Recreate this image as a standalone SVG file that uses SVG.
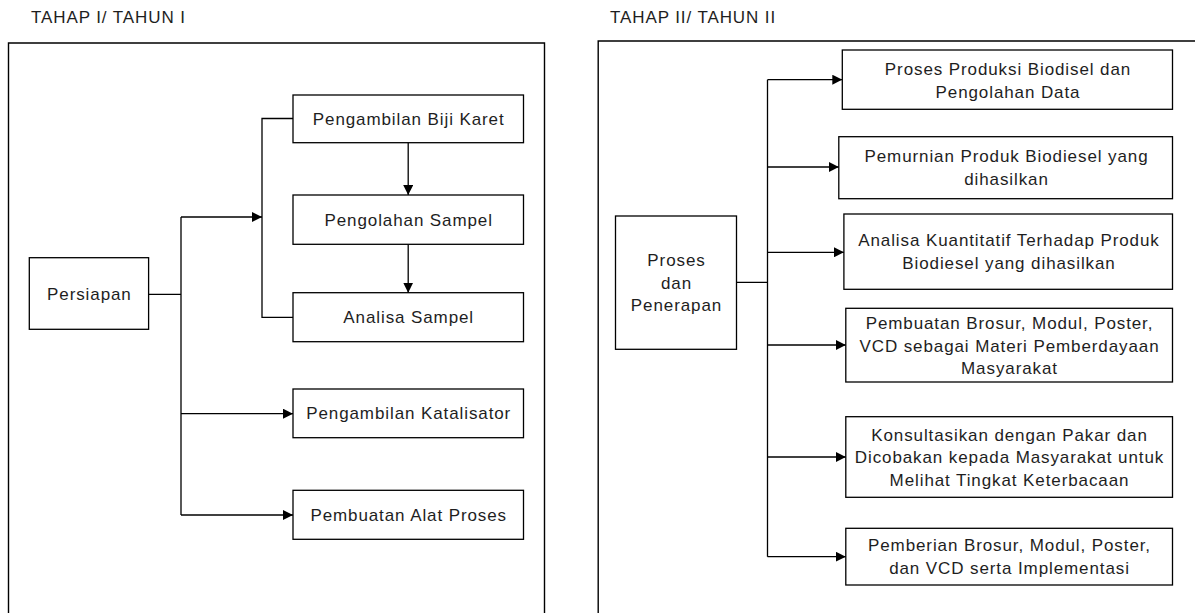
<svg xmlns="http://www.w3.org/2000/svg" width="1195" height="613" viewBox="0 0 1195 613">
<style>
.bx{fill:#fff;stroke:#000;stroke-width:1.3}
.pn{fill:none;stroke:#000;stroke-width:1.4}
.ln{fill:none;stroke:#000;stroke-width:1.3}
.ar{fill:none;stroke:#000;stroke-width:1.3;marker-end:url(#ah)}
text{font-family:"Liberation Sans",Arial,sans-serif;font-size:17px;letter-spacing:0.9px;fill:#1e1e1e}
.c{text-anchor:middle}
</style>
<defs>
<marker id="ah" viewBox="0 0 10 10" refX="10" refY="5" markerWidth="10" markerHeight="10" markerUnits="userSpaceOnUse" orient="auto">
<path d="M0,0 L10,5 L0,10 z" fill="#000"/>
</marker>
</defs>
<rect width="1195" height="613" fill="#fff"/>
<g id="panel-left">
<text x="31" y="23.3">TAHAP I/ TAHUN I</text>
<path class="pn" d="M8.5,613 V43 H544.5 V613"/>
</g>
<g id="panel-right">
<text x="610" y="23.3">TAHAP II/ TAHUN II</text>
<path class="pn" d="M598.2,613 V41 H1196"/>
</g>
<g id="connectors">
<path class="ln" d="M148.6,294.3 H181 M181,217 V515"/>
<path class="ar" d="M181,217 H262"/>
<path class="ln" d="M293,118.5 H262 V317.3 H293"/>
<path class="ar" d="M408.2,142.7 V195"/>
<path class="ar" d="M408.2,244.3 V292.7"/>
<path class="ar" d="M181,413.7 H293"/>
<path class="ar" d="M181,515 H293"/>
<path class="ln" d="M736.5,282.3 H767.5 M767.5,79.7 V556.7"/>
<path class="ar" d="M767.5,79.7 H842.3"/>
<path class="ar" d="M767.5,167 H838.8"/>
<path class="ar" d="M767.5,252.3 H843.9"/>
<path class="ar" d="M767.5,345 H845.8"/>
<path class="ar" d="M767.5,457 H845.8"/>
<path class="ar" d="M767.5,556.7 H845.8"/>
</g>
<g id="n-persiapan">
<rect class="bx" x="29.3" y="257.7" width="119.3" height="71.6"/>
<text class="c" x="89.4" y="300.3">Persiapan</text>
</g>
<g id="n-biji-karet">
<rect class="bx" x="293" y="95" width="230.5" height="47.7"/>
<text class="c" x="408.7" y="124.6">Pengambilan Biji Karet</text>
</g>
<g id="n-pengolahan">
<rect class="bx" x="293" y="195" width="230.5" height="49.3"/>
<text class="c" x="408.7" y="225.6">Pengolahan Sampel</text>
</g>
<g id="n-analisa">
<rect class="bx" x="293" y="292.7" width="230.5" height="49"/>
<text class="c" x="408.7" y="323.2">Analisa Sampel</text>
</g>
<g id="n-katalisator">
<rect class="bx" x="293" y="389" width="230.5" height="48.7"/>
<text class="c" x="408.7" y="419.2">Pengambilan Katalisator</text>
</g>
<g id="n-alat">
<rect class="bx" x="293" y="490.3" width="230.5" height="49"/>
<text class="c" x="408.7" y="520.8">Pembuatan Alat Proses</text>
</g>
<g id="n-proses">
<rect class="bx" x="615.5" y="216" width="121" height="133.3"/>
<text class="c" x="676.5" y="266.2">Proses</text>
<text class="c" x="676.5" y="288.6">dan</text>
<text class="c" x="676.5" y="311">Penerapan</text>
</g>
<g id="n-produksi">
<rect class="bx" x="842.3" y="50" width="330.2" height="59.3"/>
<text class="c" x="1008" y="75">Proses Produksi Biodisel dan</text>
<text class="c" x="1008" y="97.6">Pengolahan Data</text>
</g>
<g id="n-pemurnian">
<rect class="bx" x="838.8" y="136.7" width="333.7" height="62"/>
<text class="c" x="1006.5" y="162.4">Pemurnian Produk Biodiesel yang</text>
<text class="c" x="1006.5" y="184.8">dihasilkan</text>
</g>
<g id="n-kuantitatif">
<rect class="bx" x="843.9" y="214" width="328.6" height="75.3"/>
<text class="c" x="1009" y="246.2">Analisa Kuantitatif Terhadap Produk</text>
<text class="c" x="1009" y="268.5">Biodiesel yang dihasilkan</text>
</g>
<g id="n-brosur">
<rect class="bx" x="845.8" y="308.3" width="326.7" height="73.7"/>
<text class="c" x="1009.5" y="329.3">Pembuatan Brosur, Modul, Poster,</text>
<text class="c" x="1009.5" y="351.6">VCD sebagai Materi Pemberdayaan</text>
<text class="c" x="1009.5" y="374">Masyarakat</text>
</g>
<g id="n-konsultasi">
<rect class="bx" x="845.8" y="416.7" width="326.7" height="80.6"/>
<text class="c" x="1009.5" y="440.5">Konsultasikan dengan Pakar dan</text>
<text class="c" x="1009.5" y="463">Dicobakan kepada Masyarakat untuk</text>
<text class="c" x="1009.5" y="485.5">Melihat Tingkat Keterbacaan</text>
</g>
<g id="n-pemberian">
<rect class="bx" x="845.8" y="528.3" width="326.7" height="56.7"/>
<text class="c" x="1009.5" y="551">Pemberian Brosur, Modul, Poster,</text>
<text class="c" x="1009.5" y="573.5">dan VCD serta Implementasi</text>
</g>
</svg>
